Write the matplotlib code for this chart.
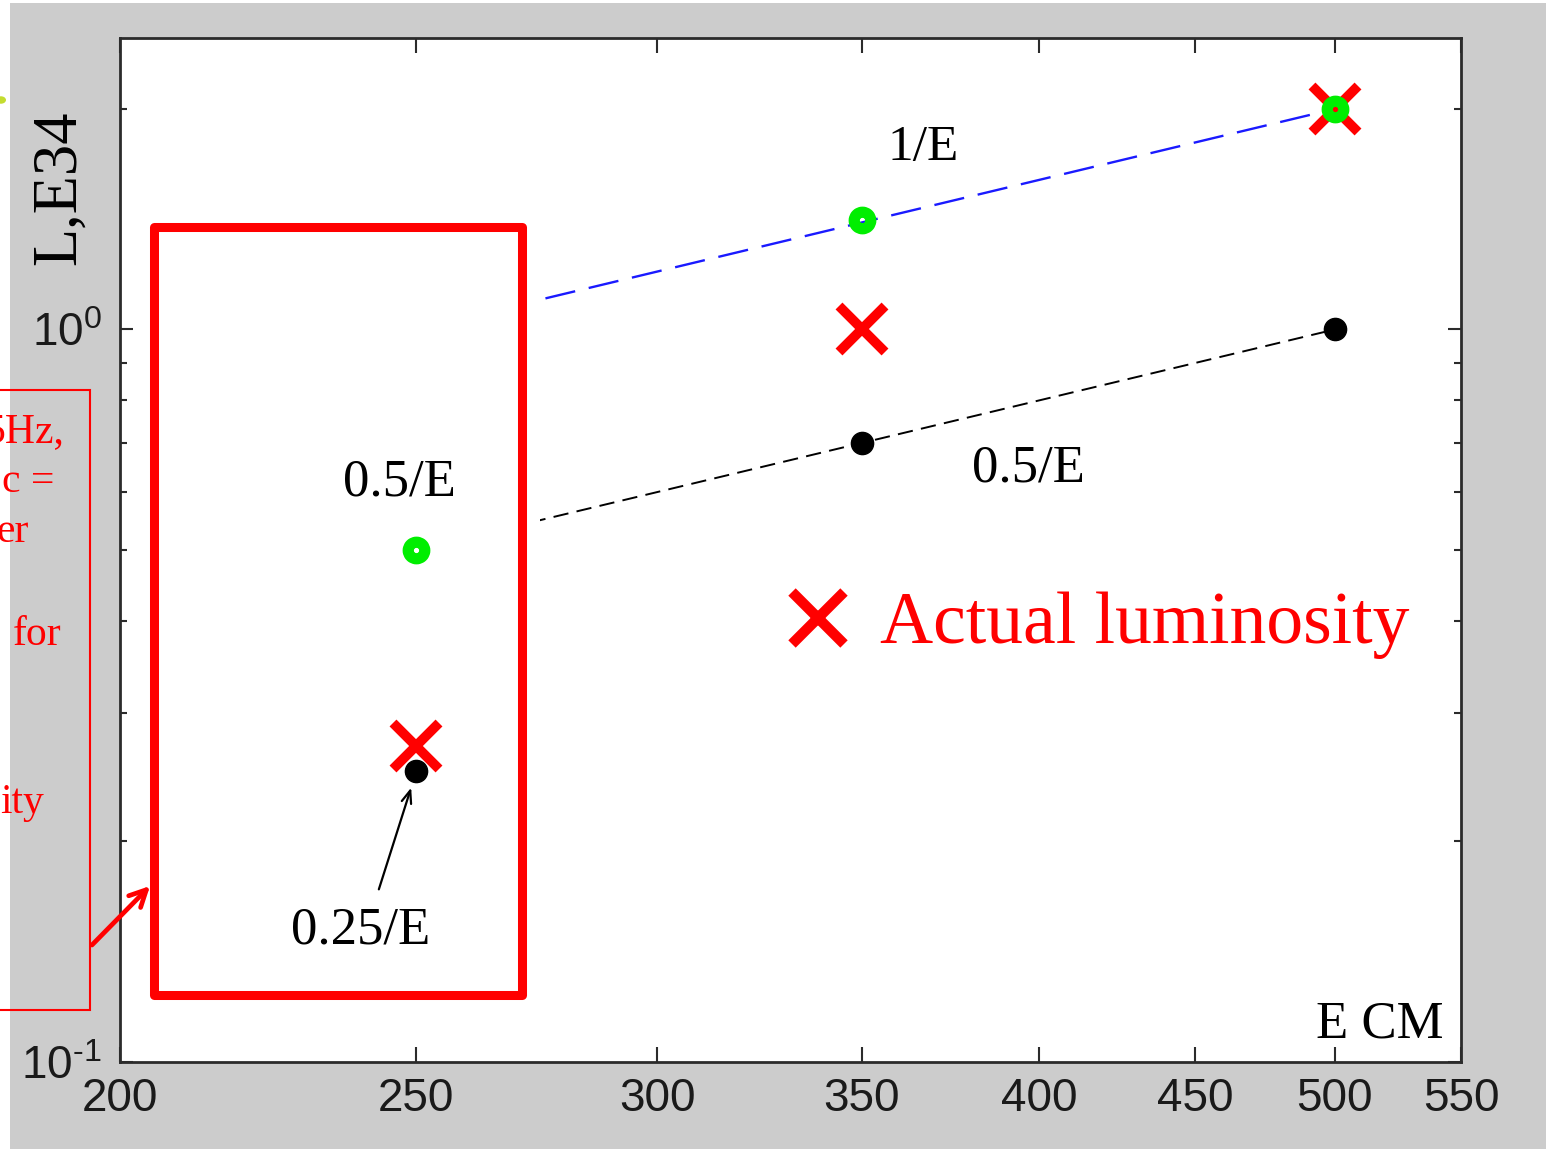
import numpy as np
import matplotlib
matplotlib.use('Agg')
import matplotlib.pyplot as plt
from matplotlib.patches import Rectangle, Circle, FancyArrowPatch
from matplotlib.ticker import NullLocator, NullFormatter, FixedLocator

# ---- data ----
energy = [250, 350, 500]                 # E CM, GeV
lumi_green = [0.5, 1.41, 2.0]            # green circles
lumi_black = [0.25, 0.70, 1.0]           # black dots
lumi_actual = [0.27, 1.0, 2.0]           # red crosses, actual luminosity
line_E = [250, 500]
line_blue = [1.0, 2.0]                   # "1/E" line
line_black = [0.5, 1.0]                  # "0.5/E" line

xticks = [200, 250, 300, 350, 400, 450, 500, 550]
xtick_labels = ['200', '250', '300', '350', '400', '450', '500', '550']
yticks = [0.1, 1.0]
ytick_labels = [r'$\mathregular{10^{\text{-}1}}$', r'$\mathregular{10^{0}}$']

W, H = 1546, 1149
serif = 'Liberation Serif'
sans = 'Liberation Sans'
plt.rcParams['mathtext.fontset'] = 'custom'
plt.rcParams['mathtext.rm'] = sans
plt.rcParams['lines.scale_dashes'] = False

fig = plt.figure(figsize=(W / 100, H / 100), dpi=100)
fig.patch.set_facecolor('white')
# grey figure background (screenshot of a MATLAB window)
fig.add_artist(Rectangle((10 / W, 0), (W - 10) / W, (H - 3) / H,
                         transform=fig.transFigure, fc='#cccccc', ec='none', zorder=-10))
fig.add_artist(Circle((1 / W, 1 - 100 / H), 5 / W, transform=fig.transFigure,
                      fc='#c4dc30', ec='none', zorder=-5))

ax = fig.add_axes([120 / W, (H - 1062) / H, 1341 / W, 1024 / H])
ax.set_xscale('log')
ax.set_yscale('log')
ax.set_xlim(200, 550)
ax.set_ylim(0.1, 2.5)


def fx(px):
    return (px - 120) / 1341


def fy(py):
    return (1062 - py) / 1024


# lines
l1, = ax.plot(line_E, line_blue, color='#1a1aff', lw=1.7, zorder=1)
l1.set_dashes([22, 10])
l2, = ax.plot(line_E, line_black, color='black', lw=1.4, zorder=1)
l2.set_dashes([11, 6])

# white box with thick red frame, hides part of the lines
ax.add_patch(Rectangle((154 / W, 1 - 995 / H), (522 - 154) / W, (995 - 227) / H,
                       transform=fig.transFigure, fc='white', ec='#ff0000', lw=6.5,
                       joinstyle='round', clip_on=False, zorder=2))
# the lines only reappear a little right of the frame
ax.add_patch(Rectangle((522 / W, 1 - 560 / H), 18 / W, 300 / H,
                       transform=fig.transFigure, fc='white', ec='none',
                       clip_on=False, zorder=1.5))

# markers
ax.plot(energy, lumi_actual, 'x', color='#ff0000', ms=33, mew=7, zorder=3)
ax.plot(energy, lumi_green, 'o', mfc='none', mec='#00ee00', ms=12, mew=8, zorder=4)
ax.plot(energy, lumi_black, 'o', color='black', ms=16, zorder=4)

# legend-like entry
ax.plot([fx(818)], [fy(618)], 'x', color='#ff0000', ms=37, mew=7.5,
        transform=ax.transAxes, clip_on=False, zorder=5)
ax.text(fx(880), fy(643), 'Actual luminosity', transform=ax.transAxes,
        fontsize=53, family=serif, color='#ff0000', va='baseline')

# annotations
ax.text(fx(888), fy(160), '1/E', transform=ax.transAxes, fontsize=37,
        family=serif, va='baseline')
ax.text(fx(972), fy(481), '0.5/E', transform=ax.transAxes, fontsize=38,
        family=serif, va='baseline')
ax.text(fx(343), fy(496), '0.5/E', transform=ax.transAxes, fontsize=38,
        family=serif, va='baseline', zorder=5)
ax.text(fx(291), fy(943), '0.25/E', transform=ax.transAxes, fontsize=38,
        family=serif, va='baseline', zorder=5)
ax.annotate('', xy=(fx(412), fy(785)), xytext=(fx(378), fy(892)),
            xycoords='axes fraction', textcoords='axes fraction',
            arrowprops=dict(arrowstyle='->,head_length=0.9,head_width=0.35',
                            color='black', lw=1.6), zorder=5)
ax.text(1444 / W, 1 - 1037 / H, 'E CM', transform=fig.transFigure, fontsize=38,
        family=serif, va='baseline', ha='right')

# y label
fig.text(60 / W, 1 - 188 / H, 'L,E34', rotation=90, fontsize=45, family=serif,
         ha='center', va='center')

# ticks
ax.xaxis.set_major_locator(FixedLocator(xticks))
ax.set_xticklabels(xtick_labels)
ax.xaxis.set_minor_locator(NullLocator())
ax.xaxis.set_minor_formatter(NullFormatter())
ax.yaxis.set_major_locator(FixedLocator(yticks))
ax.set_yticklabels(ytick_labels)
ax.yaxis.set_minor_locator(FixedLocator([0.2, 0.3, 0.4, 0.5, 0.6, 0.7, 0.8, 0.9, 2.0]))
ax.yaxis.set_minor_formatter(NullFormatter())
ax.tick_params(which='both', direction='in', top=True, right=True,
               color='#2b2b2b', width=1.5, labelsize=33, labelcolor='#1a1a1a')
ax.tick_params(axis='x', which='major', length=11, pad=11)
ax.tick_params(axis='y', which='major', length=9.5, pad=13)
ax.tick_params(axis='y', which='minor', length=5)
for lab in ax.get_xticklabels() + ax.get_yticklabels():
    lab.set_family(sans)
for sp in ax.spines.values():
    sp.set_linewidth(2)
    sp.set_color('#2b2b2b')

# partly visible slide text box on the left
fig.add_artist(Rectangle((-20 / W, 1 - 1010 / H), 110 / W, 620 / H,
                         transform=fig.transFigure, fc='none', ec='#ff0000', lw=1.5, zorder=6))
left_lines = [('5Hz,', 64, 442), ('c =', 54, 492), ('er', 29, 542),
              ('for', 61, 645), ('ity', 44, 813)]
for txt, xr, yb in left_lines:
    fig.text(xr / W, 1 - yb / H, txt, fontsize=30, family=serif, color='#ff0000',
             ha='right', va='baseline', zorder=6)
fig.add_artist(FancyArrowPatch(
    (90, H - 947), (152, H - 884), transform=None,
    arrowstyle='->,head_length=12,head_width=6', color='#ff0000', lw=3.4,
    mutation_scale=1, zorder=6))

fig.savefig('out.png', dpi=100)
